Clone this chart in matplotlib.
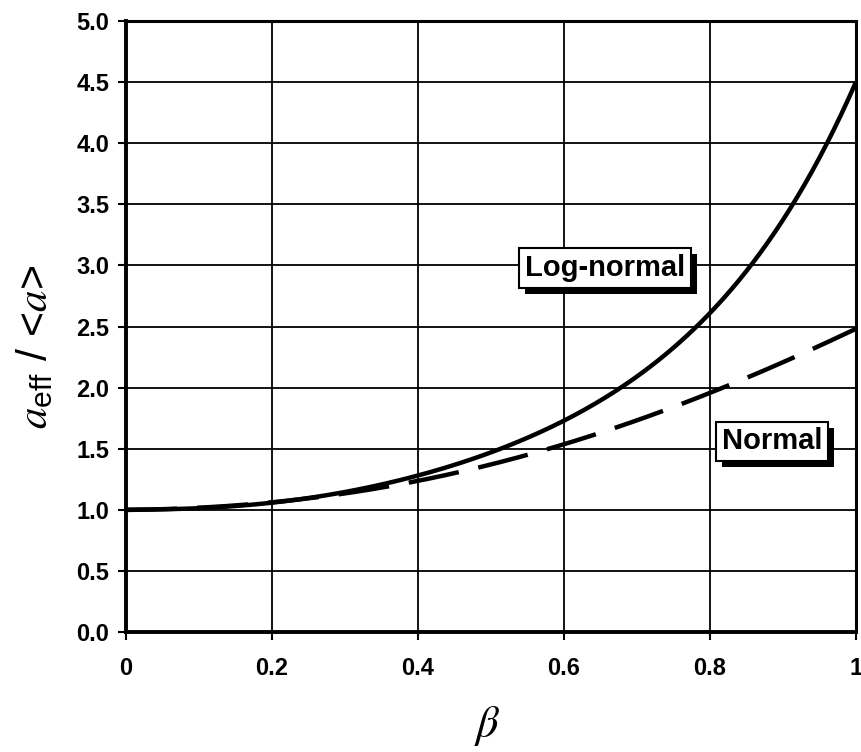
import matplotlib
matplotlib.use("Agg")
import matplotlib.pyplot as plt
import matplotlib.patheffects as pe
import numpy as np

# Data
beta = [0.0, 0.1, 0.2, 0.3, 0.4, 0.5, 0.6, 0.7, 0.8, 0.9, 1.0]
lognormal = [1.0, 1.015, 1.06, 1.14, 1.28, 1.48, 1.72, 2.10, 2.60, 3.38, 4.50]
normal = [1.0, 1.015, 1.06, 1.135, 1.24, 1.375, 1.53, 1.73, 1.96, 2.21, 2.48]

xticks = [0, 0.2, 0.4, 0.6, 0.8, 1.0]
xticklabels = ["0", "0.2", "0.4", "0.6", "0.8", "1"]
yticks = [0.0, 0.5, 1.0, 1.5, 2.0, 2.5, 3.0, 3.5, 4.0, 4.5, 5.0]
yticklabels = ["%.1f" % v for v in yticks]

plt.rcParams['font.family'] = ['Liberation Sans', 'DejaVu Sans']
plt.rcParams['mathtext.fontset'] = 'custom'
plt.rcParams['mathtext.rm'] = 'Liberation Sans'
plt.rcParams['mathtext.it'] = 'STIXGeneral:italic'

W, H = 861, 752
fig = plt.figure(figsize=(W/100, H/100), dpi=100)
ax = fig.add_axes([126/W, (H-632)/H, 730/W, 611/H])

xs = np.linspace(0, 1, 200)
c1 = np.polyfit(beta, lognormal, 5)
c2 = np.polyfit(beta, normal, 4)
ax.plot(xs, np.polyval(c1, xs), color='black', lw=3.2, solid_capstyle='butt', zorder=3)
ax.plot(xs, np.polyval(c2, xs), color='black', lw=3.2, dashes=(11.5, 4.5),
        dash_capstyle='butt', zorder=3)

ax.set_xlim(0, 1)
ax.set_ylim(0, 5)
ax.set_xticks(xticks)
ax.set_xticklabels(xticklabels)
ax.set_yticks(yticks)
ax.set_yticklabels(yticklabels)
ax.grid(True, color='black', lw=1.3)
ax.set_axisbelow(True)
for name, s in ax.spines.items():
    s.set_linewidth(2.8 if name in ('left', 'bottom') else 2.2)
ax.tick_params(axis='both', direction='out', length=6, width=1.5, labelsize=17)
ax.tick_params(axis='x', pad=12)
ax.tick_params(axis='y', pad=6)
for lab in ax.get_xticklabels() + ax.get_yticklabels():
    lab.set_fontweight('bold')

fig.text(487/W, 1 - 726/H, r'$\beta$', fontsize=32, ha='center', va='center')
fig.text(36/W, 1 - 347/H, r'$a_{\rm eff}$ $/$ <$a$>', fontsize=31,
         rotation=90, ha='center', va='center')


def boxed(x, y, text):
    t = ax.text(x, y, text, fontsize=21, ha='center', va='center', fontweight='bold',
                zorder=5,
                bbox=dict(boxstyle='square,pad=0.2', fc='white', ec='black', lw=1.5))
    t.get_bbox_patch().set_path_effects([
        pe.SimplePatchShadow(offset=(4.5, -4.5), shadow_rgbFace='black', alpha=1.0),
        pe.Normal()])


boxed(0.656, 2.98, 'Log-normal')
boxed(0.885, 1.56, 'Normal')

fig.savefig('out.png', dpi=100)
